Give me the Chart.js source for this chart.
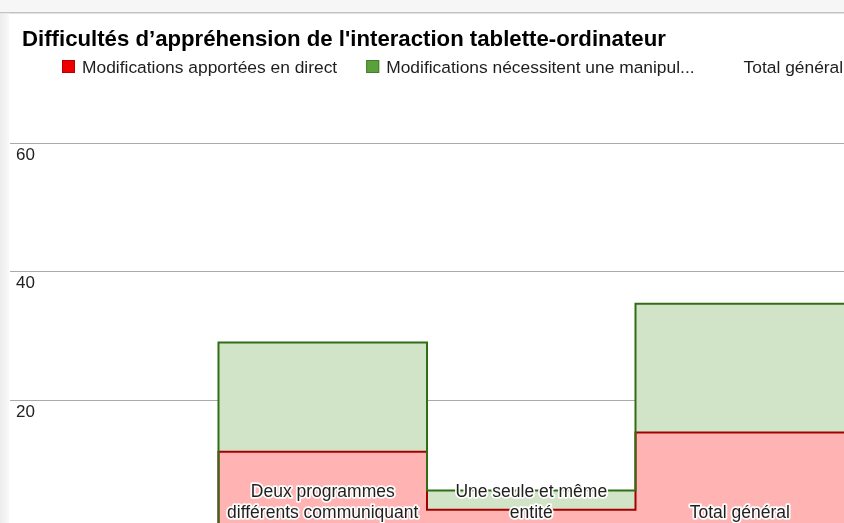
<!DOCTYPE html>
<html><head><meta charset="utf-8">
<script src="https://cdn.jsdelivr.net/npm/chart.js@4.4.1/dist/chart.umd.min.js"></script>
<style>html,body{margin:0;padding:0;background:#fff;overflow:hidden}#wrap{width:844px;height:523px;position:relative;overflow:hidden}canvas{display:block}</style>
</head><body><div id="wrap"><canvas id="c" width="844" height="529"></canvas></div>
<script>
const chartTitle = "Difficultés d’appréhension de l'interaction tablette-ordinateur";
const categories = [[""], ["Deux programmes", "différents communiquant"], ["Une seule et même", "entité"], ["Total général"]];
const seriesNames = ["Modifications apportées en direct", "Modifications nécessitent une manipul...", "Total général"];
const directValues = [0, 12, 3, 15];
const manipValues = [0, 17, 3, 20];
const totalValues = [null, null, null, null];
const yTicks = [0, 20, 40, 60];

const FONT = '"Liberation Sans", Arial, sans-serif';

// stepped points: value i spans [i, i+1]
function steps(vals) {
  const pts = vals.map((v, i) => ({x: i, y: v}));
  pts.push({x: vals.length, y: vals[vals.length - 1]});
  return pts;
}
// cumulative (stacked) values for the second series
const stackedManip = manipValues.map((v, i) => v + directValues[i]);

const drawPlugin = {
  id: 'drawPlugin',
  beforeDraw(chart) {
    const ctx = chart.ctx;
    ctx.save();
    ctx.fillStyle = '#ffffff';
    ctx.fillRect(0, 0, chart.width, chart.height);
    ctx.fillStyle = '#f6f6f6';
    ctx.fillRect(0, 0, chart.width, 12);
    ctx.fillStyle = '#c2c2c2';
    ctx.fillRect(0, 12, chart.width, 1.5);
    const g = ctx.createLinearGradient(0, 0, 10, 0);
    g.addColorStop(0, '#ececec');
    g.addColorStop(1, '#fafafa');
    ctx.fillStyle = g;
    ctx.fillRect(0, 13.5, 9, chart.height);
    ctx.restore();
  },
  afterDatasetsDraw(chart) {
    const ctx = chart.ctx;
    const xs = chart.scales.x, ys = chart.scales.y;
    const base = ys.getPixelForValue(0) - 11.5;
    ctx.save();
    ctx.font = '17.5px ' + FONT;
    ctx.textAlign = 'center';
    ctx.textBaseline = 'alphabetic';
    ctx.lineJoin = 'round';
    categories.forEach((lines, i) => {
      const cx = xs.getPixelForValue(i + 0.5);
      lines.forEach((t, j) => {
        const y = base - (lines.length - 1 - j) * 21;
        ctx.strokeStyle = 'rgba(255,255,255,0.95)';
        ctx.lineWidth = 3.5;
        ctx.strokeText(t, cx, y);
        ctx.fillStyle = '#1e1e1e';
        ctx.fillText(t, cx, y);
      });
    });
    ctx.restore();
  },
  afterDraw(chart) {
    const ctx = chart.ctx;
    ctx.save();
    ctx.fillStyle = '#000';
    ctx.font = 'bold 22.2px ' + FONT;
    ctx.textBaseline = 'alphabetic';
    ctx.textAlign = 'left';
    ctx.fillText(chartTitle, 22, 46);
    // legend
    ctx.font = '17.4px ' + FONT;
    let x = 62;
    chart.data.datasets.forEach(ds => {
      ctx.fillStyle = ds.legendColor;
      ctx.fillRect(x, 60, 13, 13);
      ctx.strokeStyle = ds.legendBorder;
      ctx.lineWidth = 1;
      ctx.strokeRect(x + 0.5, 60.5, 12, 12);
      ctx.fillStyle = '#1e1e1e';
      ctx.fillText(ds.label, x + 20, 73);
      x += 20 + ctx.measureText(ds.label).width + 29;
    });
    ctx.restore();
  }
};

new Chart(document.getElementById('c'), {
  type: 'line',
  data: {
    datasets: [
      {label: seriesNames[0], data: steps(directValues), borderColor: '#a40000', backgroundColor: '#ffb3b3',
       fill: 'origin', stepped: true, order: 1, borderWidth: 2, pointRadius: 0,
       legendColor: '#ee0000', legendBorder: '#b80000'},
      {label: seriesNames[1], data: steps(stackedManip), borderColor: '#2f6e15', backgroundColor: '#d1e4c8',
       fill: 0, stepped: true, order: 0, borderWidth: 2, pointRadius: 0,
       legendColor: '#5ca03c', legendBorder: '#3f7f26'},
      {label: seriesNames[2], data: steps(totalValues), borderColor: 'rgba(0,0,0,0)', backgroundColor: 'rgba(0,0,0,0)',
       fill: false, stepped: true, order: 2, borderWidth: 0, pointRadius: 0,
       legendColor: '#ffffff', legendBorder: '#ffffff'}
    ]
  },
  options: {
    responsive: false,
    animation: false,
    devicePixelRatio: 1,
    layout: {padding: {left: 10, right: 0, top: 143, bottom: 0}},
    plugins: {legend: {display: false}, title: {display: false}, tooltip: {enabled: false},
              filler: {drawTime: 'beforeDatasetsDraw'}},
    scales: {
      x: {type: 'linear', min: 0, max: categories.length, display: false},
      y: {
        min: 0, max: 60, position: 'left',
        border: {display: false},
        grid: {color: '#a9a9a9', drawTicks: false, lineWidth: 1},
        afterBuildTicks(axis) { axis.ticks = yTicks.map(v => ({value: v})); },
        afterFit(axis) { axis.width = 0; axis.paddingTop = 0; axis.paddingBottom = 0; },
        ticks: {mirror: true, padding: 6, labelOffset: 12, color: '#222',
                font: {family: FONT, size: 17}, callback: v => (v === 0 ? '' : v)}
      }
    }
  },
  plugins: [drawPlugin]
});
</script></body></html>
